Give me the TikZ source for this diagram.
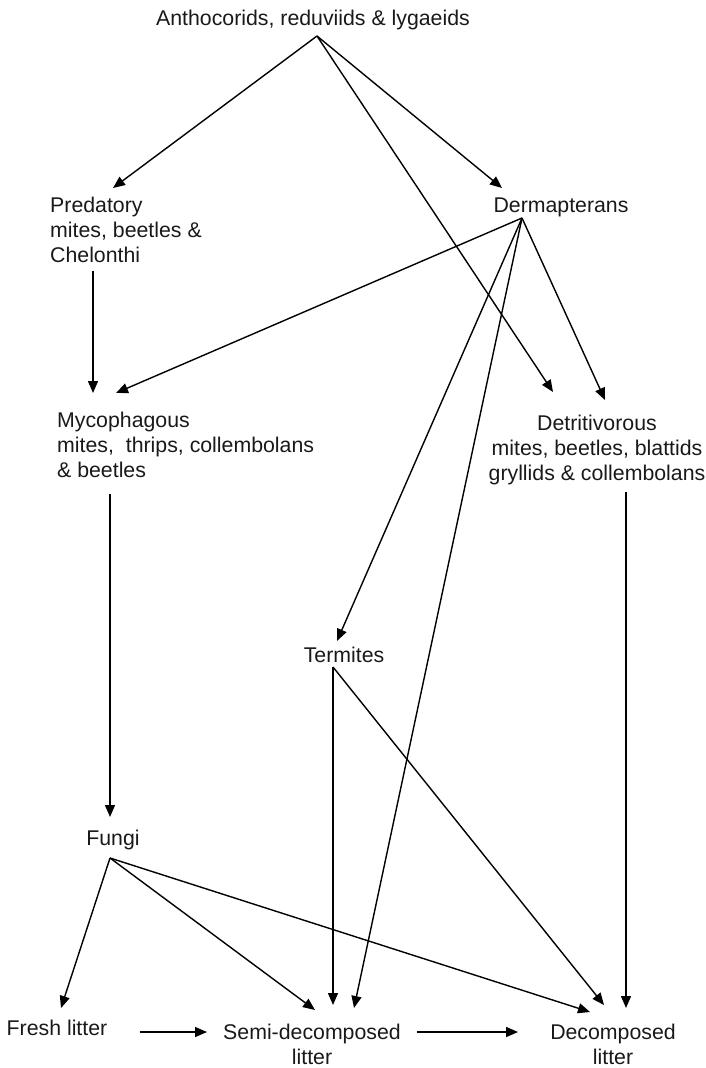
\documentclass[tikz,border=0pt]{standalone}
\usepackage{fontspec}
\setmainfont{Liberation Sans}
\usetikzlibrary{arrows.meta}
\tikzstyle{taxon} = [inner sep=0pt, text=black!90, font=\fontsize{21.3}{25}\selectfont]
\tikzstyle{link} = [draw, line width=1.4pt, -{Triangle[length=12pt,width=10pt]}]

\begin{document}
\begin{tikzpicture}[x=1pt, y=-1pt]
		\useasboundingbox (0,0) rectangle (706,1068);
		%Place nodes
		\node [taxon, anchor=base] (anth) at (313,25) {Anthocorids, reduviids \& lygaeids};
		\node [taxon, anchor=north west, align=left] (pred) at (50,197) {Predatory\\mites, beetles \&\\Chelonthi};
		\node [taxon, anchor=base] (derm) at (561,212) {Dermapterans};
		\node [taxon, anchor=north west, align=left] (myco) at (57,412) {Mycophagous\\mites, \ thrips, collembolans\\\& beetles};
		\node [taxon, anchor=north, align=center] (detr) at (597,415) {Detritivorous\\mites, beetles, blattids\\gryllids \& collembolans};
		\node [taxon, anchor=base] (term) at (344,662) {Termites};
		\node [taxon, anchor=base] (fungi) at (113,845) {Fungi};
		\node [taxon, anchor=base] (fresh) at (57,1035) {Fresh litter};
		\node [taxon, anchor=north, align=center] (semi) at (312,1024) {Semi-decomposed\\litter};
		\node [taxon, anchor=north, align=center] (decomp) at (613,1024) {Decomposed\\litter};

		%Where the fans start
		\coordinate (anthout) at ([xshift=4pt,yshift=-11pt]anth.base);
		\coordinate (dermout) at ([xshift=-39pt,yshift=-6pt]derm.base);
		\coordinate (termout) at ([xshift=-11pt,yshift=-5pt]term.base);
		\coordinate (fungiout) at ([xshift=-3pt,yshift=-13pt]fungi.base);

		%Draw edges
		\draw [link] (anthout) -- ([xshift=-13pt,yshift=9pt]pred.north);
		\draw [link] (anthout) -- ([xshift=-59pt,yshift=24pt]derm.base);
		\draw [link] (anthout) -- ([xshift=-44pt,yshift=23pt]detr.north);

		\draw [link] ([xshift=43pt,yshift=-8pt]pred.south west) -- ([xshift=36pt,yshift=19pt]myco.north west);
		\draw [link] (dermout) -- ([xshift=59pt,yshift=19pt]myco.north west);
		\draw [link] (dermout) -- ([xshift=8pt,yshift=15pt]detr.north);
		\draw [link] (dermout) -- ([xshift=-7pt,yshift=21pt]term.base);
		\draw [link] (dermout) -- ([xshift=42pt,yshift=16pt]semi.north);

		\draw [link] ([xshift=53pt,yshift=-16pt]myco.south west) -- ([xshift=-3pt,yshift=28pt]fungi.base);
		\draw [link] ([xshift=29pt,yshift=-7pt]detr.south) -- ([xshift=13pt,yshift=16pt]decomp.north);

		\draw [link] (termout) -- ([xshift=21pt,yshift=19pt]semi.north);
		\draw [link] (termout) -- ([xshift=-9pt,yshift=19pt]decomp.north);

		\draw [link] (fungiout) -- ([xshift=4pt,yshift=27pt]fresh.base);
		\draw [link] (fungiout) -- ([xshift=3pt,yshift=14pt]semi.north);
		\draw [link] (fungiout) -- ([xshift=-23pt,yshift=12pt]decomp.north);

		\draw [link] ([xshift=32pt,yshift=3pt]fresh.base east) -- ([xshift=-16pt,yshift=-8pt]semi.north west);
		\draw [link] ([xshift=16pt,yshift=-8pt]semi.north east) -- ([xshift=-32pt,yshift=-8pt]decomp.north west);
\end{tikzpicture}
\end{document}
